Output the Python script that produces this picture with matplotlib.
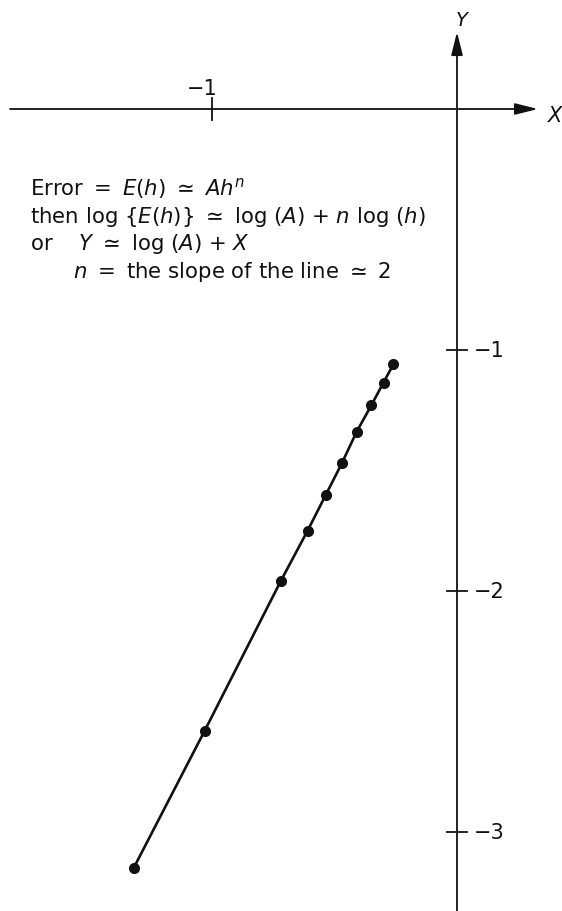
import matplotlib
matplotlib.use("Agg")
import matplotlib.pyplot as plt

plt.rcParams["font.family"] = ["DejaVu Sans"]
plt.rcParams["mathtext.fontset"] = "dejavusans"

# log(h) and log(error) for the step-size study
log_h = [-1.32, -1.03, -0.72, -0.61, -0.535, -0.47, -0.41, -0.35, -0.30, -0.26]
log_err = [-3.15, -2.58, -1.96, -1.75, -1.60, -1.47, -1.34, -1.23, -1.135, -1.06]

x_ticks = [-1]
y_ticks = [-1, -2, -3]
x_tick_labels = ["\u22121"]
y_tick_labels = ["\u22121", "\u22122", "\u22123"]

W, H = 562, 912
x_scale, y_scale = 245.0, 241.0   # pixels per unit
x_origin, y_origin = 457.0, 110.0  # pixel position of (0, 0)


def px_x(p):
    return (p - x_origin) / x_scale


def px_y(p):
    return -(p - y_origin) / y_scale


fig = plt.figure(figsize=(W / 100, H / 100), dpi=100)
ax = fig.add_axes([0, 0, 1, 1])
ax.set_xlim(px_x(0), px_x(W))
ax.set_ylim(px_y(H), px_y(0))
ax.axis("off")

ink = "#111111"

# coordinate axes with arrow heads
arrow = dict(arrowstyle="-|>,head_length=14,head_width=3.5", mutation_scale=1,
             color=ink, lw=1.3, shrinkA=0, shrinkB=0)
ax.annotate("", xy=(px_x(538), 0), xytext=(px_x(10), 0), arrowprops=arrow)
ax.annotate("", xy=(0, px_y(33)), xytext=(0, px_y(H)), arrowprops=arrow)
ax.text(px_x(555), px_y(116), "X", fontsize=15, style="italic",
        ha="center", va="center", color=ink)
ax.text(px_x(462), px_y(20), "Y", fontsize=14, style="italic",
        ha="center", va="center", color=ink)

# tick marks and labels
for xt, lab in zip(x_ticks, x_tick_labels):
    ax.plot([xt, xt], [px_y(121), px_y(99)], color=ink, lw=1.3)
    ax.text(xt - 0.04, px_y(89), lab, fontsize=15, ha="center", va="center", color=ink)
for yt, lab in zip(y_ticks, y_tick_labels):
    ax.plot([px_x(447), px_x(467)], [yt, yt], color=ink, lw=1.3)
    ax.text(px_x(474), yt, lab, fontsize=15, ha="left", va="center", color=ink)

# the measured errors
ax.plot(log_h, log_err, color=ink, lw=1.9, marker="o", markersize=7,
        markerfacecolor=ink, markeredgecolor=ink)

# explanatory text
fs = 15.3
lines = [
    (30, 195, r"Error $=$ $E(h)$ $\simeq$ $Ah^n$"),
    (30, 223, r"then log $\{E(h)\}$ $\simeq$ log $(A)$ $+$ $n$ log $(h)$"),
    (30, 250, r"or    $Y$ $\simeq$ log $(A)$ $+$ $X$"),
    (73, 278, r"$n$ $=$ the slope of the line $\simeq$ 2"),
]
for lx, by, s in lines:
    ax.text(px_x(lx), px_y(by), s, fontsize=fs, ha="left", va="baseline", color=ink)

fig.savefig("out.png", dpi=100, facecolor="white")
